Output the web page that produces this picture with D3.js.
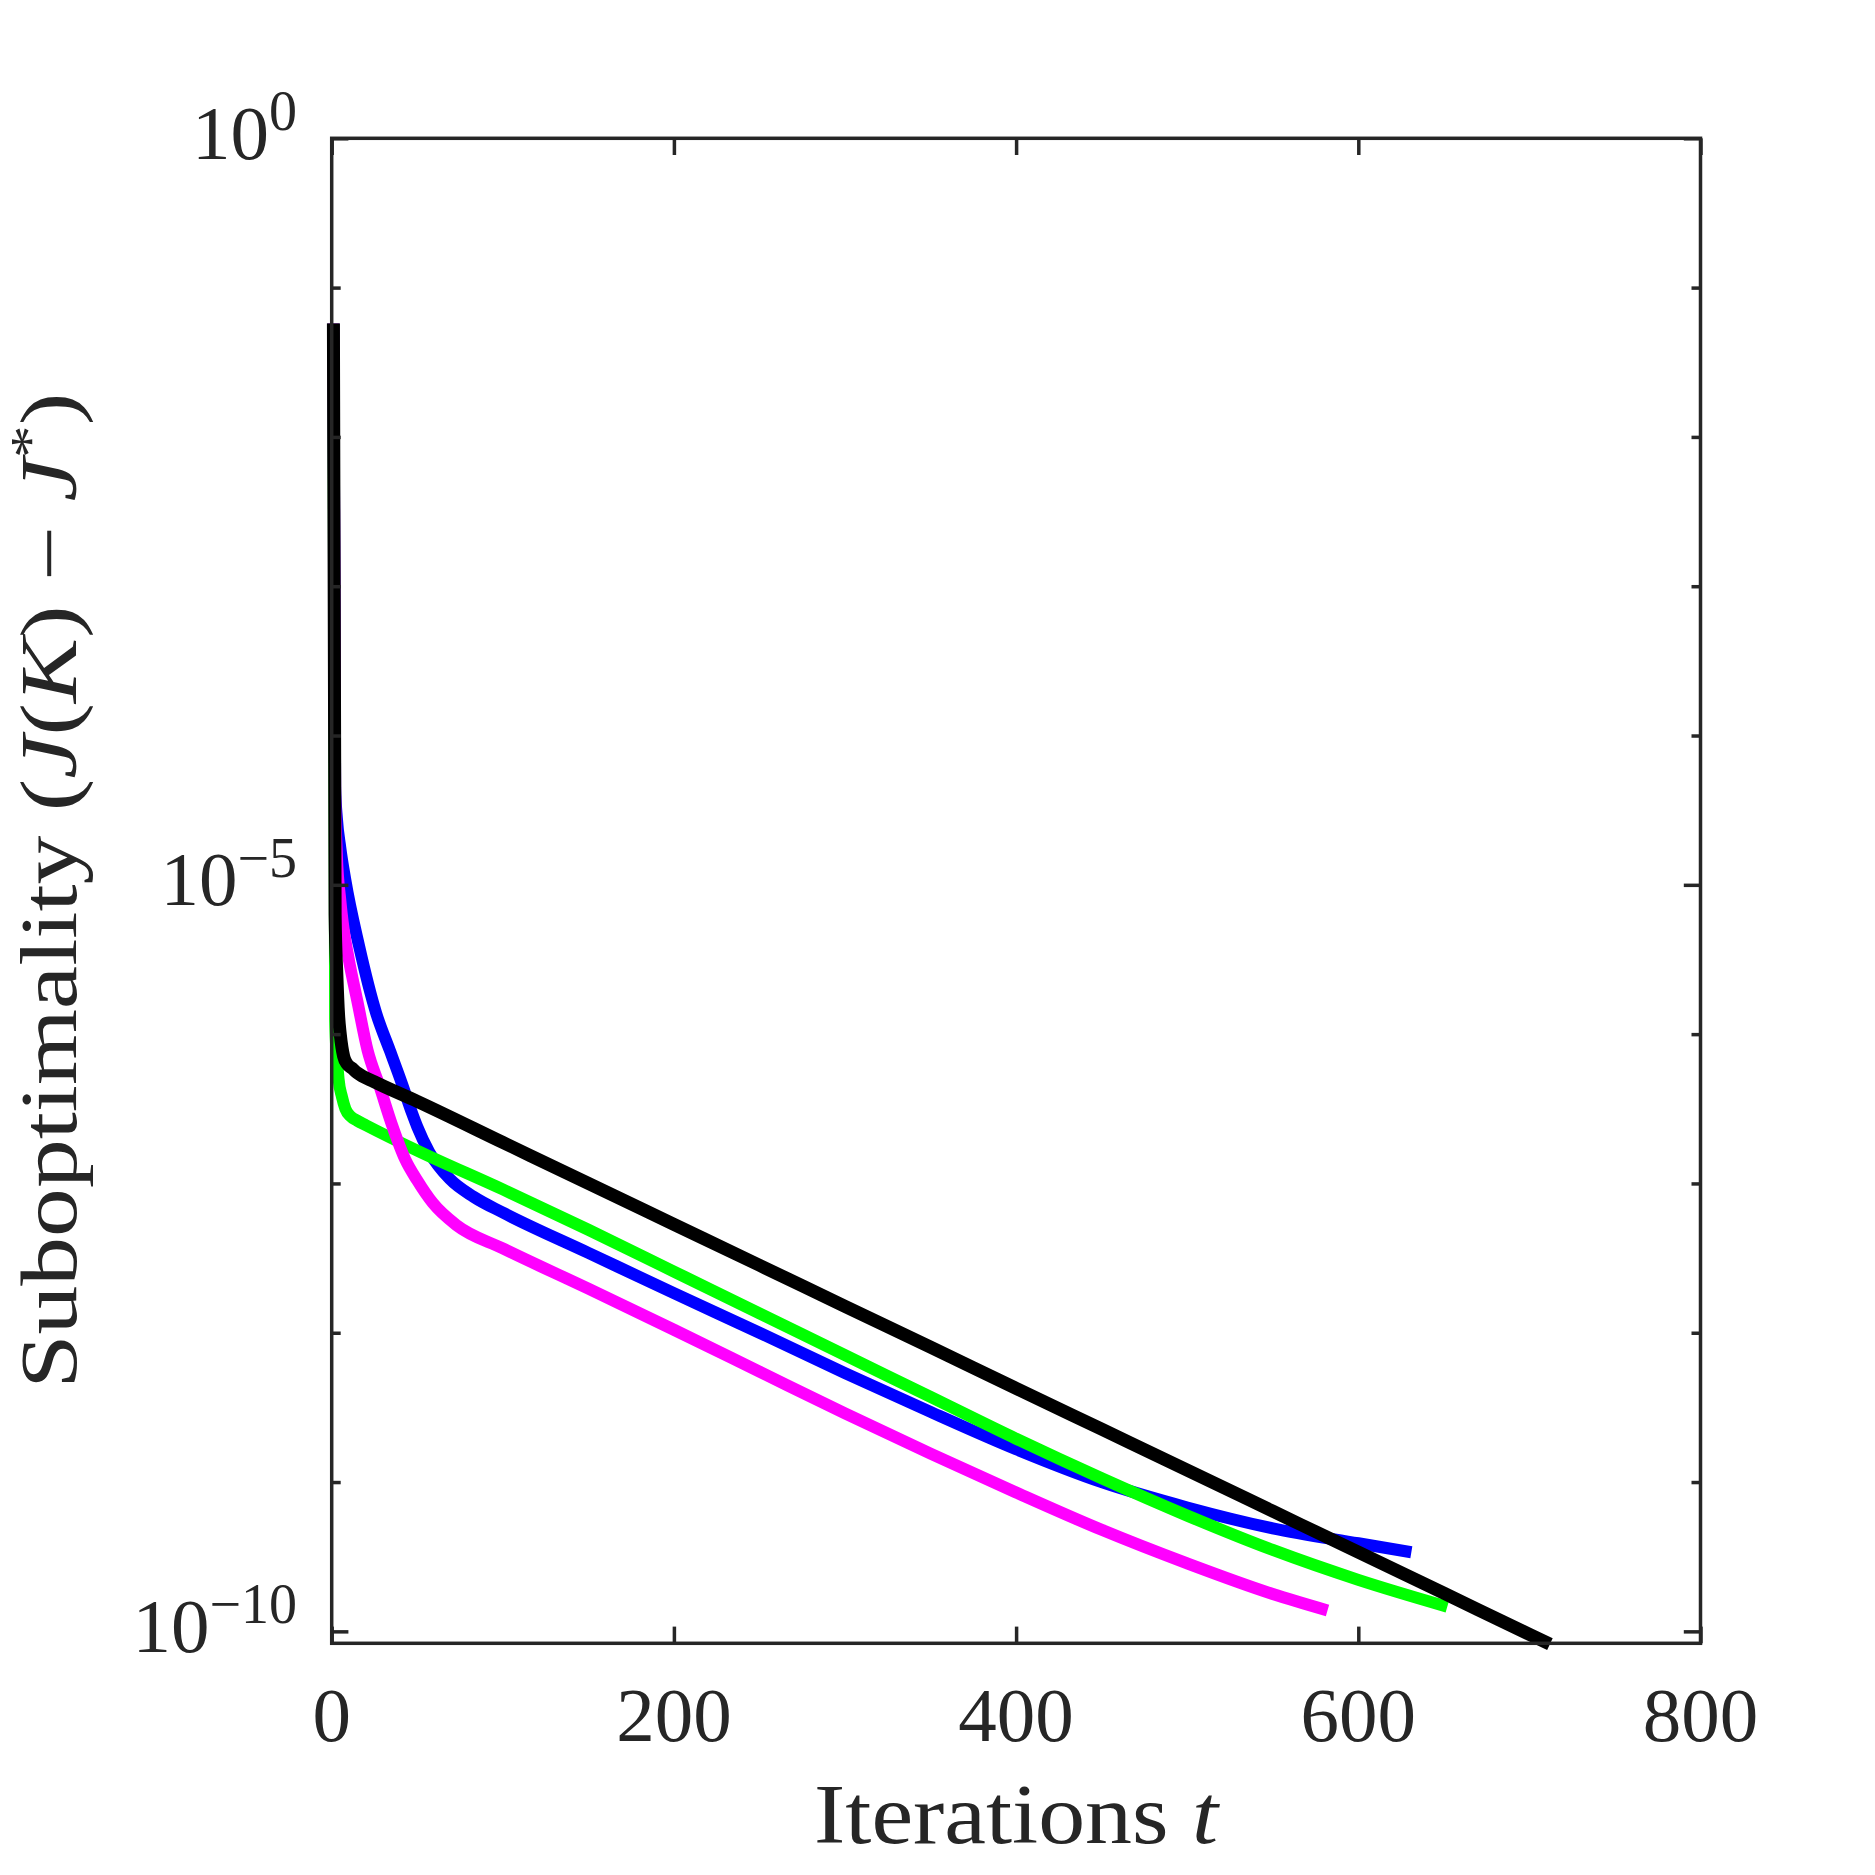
<!DOCTYPE html>
<html>
<head>
<meta charset="utf-8">
<script src="https://cdn.jsdelivr.net/npm/d3@7"></script>
<style>
  html, body { margin: 0; padding: 0; background: #fff; }
  svg text { font-family: "Liberation Serif", "DejaVu Serif", serif; fill: #262626; }
</style>
</head>
<body>
<svg width="1875" height="1875"></svg>
<script>
// iterations t and log10 of suboptimality
let blueT   = [1, 2, 3, 5, 8, 16, 26, 34, 41, 47, 50, 57, 69, 83, 100, 150, 200, 250, 300, 350, 400, 450, 500, 550, 600, 631];
let blueLog = [-1.24, -4.35, -4.55, -4.75, -4.97, -5.41, -5.86, -6.11, -6.33, -6.53, -6.62, -6.79, -6.97, -7.09, -7.195, -7.465, -7.735, -8.0, -8.27, -8.53, -8.78, -9.0, -9.17, -9.31, -9.41, -9.47];

let greenT   = [1, 2, 3, 4, 6, 8, 11, 15, 20, 50, 100, 150, 200, 250, 300, 350, 400, 450, 500, 550, 600, 652];
let greenLog = [-1.24, -5.9, -6.15, -6.3, -6.42, -6.5, -6.55, -6.58, -6.61, -6.78, -7.04, -7.31, -7.59, -7.87, -8.15, -8.43, -8.71, -8.975, -9.225, -9.455, -9.655, -9.835];

let magT   = [1, 2, 3, 5, 7, 10, 15, 21, 28, 35, 43, 50, 59, 73, 100, 150, 200, 250, 300, 350, 400, 450, 500, 550, 582];
let magLog = [-1.24, -4.4, -4.8, -5.1, -5.3, -5.5, -5.78, -6.11, -6.35, -6.6, -6.84, -6.98, -7.13, -7.28, -7.435, -7.705, -7.98, -8.26, -8.54, -8.81, -9.07, -9.32, -9.545, -9.75, -9.86];

let blackT   = [1, 2, 3, 4, 5, 6, 7, 9, 12, 15, 25, 50, 100, 150, 200, 250, 300, 350, 400, 450, 500, 550, 600, 650, 700, 712];
let blackLog = [-1.24, -5.2, -5.6, -5.87, -6.0, -6.09, -6.15, -6.2, -6.23, -6.26, -6.32, -6.45, -6.725, -7.0, -7.274, -7.548, -7.823, -8.097, -8.372, -8.646, -8.92, -9.195, -9.47, -9.744, -10.02, -10.085];

let xTicks = [0, 200, 400, 600, 800];
let yMajorExp = [0, -5, -10];
let yMinorExp = [-1, -2, -3, -4, -6, -7, -8, -9];

let series = [
	{ t: blueT,  v: blueLog,  color: '#0000ff', w: 12 },
	{ t: greenT, v: greenLog, color: '#00ff00', w: 12 },
	{ t: magT,   v: magLog,   color: '#ff00ff', w: 12 },
	{ t: blackT, v: blackLog, color: '#000000', w: 13 }
];

let svg = d3.select("svg");
let pLeft = 331.7, pRight = 1700.5, pTop = 138.3, pBottom = 1643.3;
let axisColor = '#262626';

let x = d3.scaleLinear().domain([0, 800]).range([pLeft, pRight]);
let y = d3.scaleLog().domain([1, Math.pow(10, -10.08)]).range([pTop, pBottom]);

// curves
let line = d3.line()
	.curve(d3.curveMonotoneX)
	.x(d => x(d[0]))
	.y(d => y(Math.pow(10, d[1])));

let glines = svg.append("g").attr('class', 'lines');
series.forEach(s => {
	let pts = s.t.map((t, i) => [t, s.v[i]]);
	glines.append("path")
		.datum(pts)
		.attr("fill", "none")
		.attr("stroke", s.color)
		.attr("stroke-width", s.w)
		.attr("stroke-linejoin", "round")
		.attr("stroke-linecap", "butt")
		.attr("d", line);
});

// ticks (inward) on all four sides
let majorLen = 16.7, minorLen = 9;
let styleAxis = g => {
	g.select(".domain").remove();
	g.selectAll(".tick line").attr("stroke", axisColor).attr("stroke-width", 3.5);
	g.selectAll(".tick text").remove();
};

svg.append("g").attr("transform", `translate(0,${pBottom})`)
	.call(d3.axisBottom(x).tickValues(xTicks).tickSizeInner(-majorLen).tickSizeOuter(0))
	.call(styleAxis);
svg.append("g").attr("transform", `translate(0,${pTop})`)
	.call(d3.axisTop(x).tickValues(xTicks).tickSizeInner(-majorLen).tickSizeOuter(0))
	.call(styleAxis);

let majVals = yMajorExp.map(e => Math.pow(10, e));
let minVals = yMinorExp.map(e => Math.pow(10, e));
[[majVals, majorLen], [minVals, minorLen]].forEach(([vals, len]) => {
	svg.append("g").attr("transform", `translate(${pLeft},0)`)
		.call(d3.axisLeft(y).tickValues(vals).tickSizeInner(-len).tickSizeOuter(0))
		.call(styleAxis);
	svg.append("g").attr("transform", `translate(${pRight},0)`)
		.call(d3.axisRight(y).tickValues(vals).tickSizeInner(-len).tickSizeOuter(0))
		.call(styleAxis);
});

// box
svg.append("rect")
	.attr("x", pLeft).attr("y", pTop)
	.attr("width", pRight - pLeft).attr("height", pBottom - pTop)
	.attr("fill", "none")
	.attr("stroke", axisColor)
	.attr("stroke-width", 3.5);

// x tick labels
svg.append("g").selectAll("text")
	.data(xTicks)
	.enter().append("text")
	.attr("x", d => x(d))
	.attr("y", 1741)
	.attr("text-anchor", "middle")
	.attr("font-size", 77)
	.text(d => d);

// y tick labels 10^e
let ylab = svg.append("g").selectAll("text")
	.data(yMajorExp)
	.enter().append("text")
	.attr("x", 297)
	.attr("y", d => y(Math.pow(10, d)) + 20.5)
	.attr("text-anchor", "end")
	.attr("font-size", 77);
ylab.append("tspan").text("10");
ylab.append("tspan")
	.attr("dy", -28.5)
	.attr("font-size", 56)
	.text(d => d === 0 ? "0" : "\u2212" + Math.abs(d));

// axis titles
svg.append("text")
	.attr("x", (pLeft + pRight) / 2)
	.attr("y", 1843)
	.attr("text-anchor", "middle")
	.attr("font-size", 84)
	.attr("textLength", 404)
	.attr("lengthAdjust", "spacingAndGlyphs")
	.call(t => {
		t.append("tspan").text("Iterations ");
		t.append("tspan").attr("font-style", "italic").text("t");
	});

svg.append("text")
	.attr("transform", `translate(76,${(pTop + pBottom) / 2}) rotate(-90)`)
	.attr("text-anchor", "middle")
	.attr("font-size", 80)
	.attr("textLength", 996)
	.attr("lengthAdjust", "spacingAndGlyphs")
	.call(t => {
		t.append("tspan").text("Suboptimality (");
		t.append("tspan").attr("font-style", "italic").text("J");
		t.append("tspan").text("(");
		t.append("tspan").attr("font-style", "italic").text("K");
		t.append("tspan").text(") \u2212 ");
		t.append("tspan").attr("font-style", "italic").text("J");
		t.append("tspan").attr("dy", -28).attr("font-size", 54).text("*");
		t.append("tspan").attr("dy", 28).text(")");
	});
</script>
</body>
</html>
